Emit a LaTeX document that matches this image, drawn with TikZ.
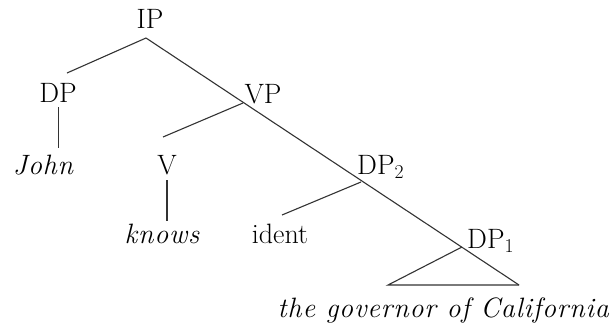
\documentclass[tikz,border=0pt]{standalone}
\usepackage{fontspec}
\setmainfont{Latin Modern Roman}[ItalicFeatures={LetterSpace=3}]
\begin{document}
\begin{tikzpicture}[x=1pt,y=-1pt,
  lbl/.style={inner sep=0pt,font=\fontsize{28}{30}\selectfont},
  edge/.style={line width=1.1pt,black!80}]
\useasboundingbox (0,0) rectangle (613,327);
% labels
\node[lbl,anchor=base] (ip) at (150,28) {IP};
\node[lbl,anchor=base] (dp) at (58,102) {DP};
\node[lbl,anchor=base] (john) at (43,174) {\itshape John};
\node[lbl,anchor=base] (vp) at (263,103) {VP};
\node[lbl,anchor=base] (v) at (167,174) {V};
\node[lbl,anchor=base] (knows) at (162,243) {\itshape knows};
\node[lbl,anchor=base] (ident) at (280,243) {ident};
\node[lbl,anchor=base west] (dptwo) at (357,174) {DP\textsubscript{2}};
\node[lbl,anchor=base west] (dpone) at (467,248) {DP\textsubscript{1}};
\node[lbl,anchor=base east] (gov) at (609,317) {\itshape the governor of California};
% branch points
\coordinate (ipA) at (146,38);
\coordinate (dpT) at (67,73);
\coordinate (dpB1) at (58.5,107);
\coordinate (dpB2) at (58.5,148);
\coordinate (vpA) at (243,103);
\coordinate (vT) at (163,137);
\coordinate (vB1) at (167,180);
\coordinate (vB2) at (167,221);
\coordinate (dptwoA) at (361,182);
\coordinate (idT) at (282,215);
\coordinate (dponeA) at (462,247);
\coordinate (triL) at (388,285);
\coordinate (triR) at (519,285);
% edges
\draw[edge] (ipA) -- (triR);
\draw[edge] (ipA) -- (dpT);
\draw[edge] (dpB1) -- (dpB2);
\draw[edge] (vpA) -- (vT);
\draw[edge] (vB1) -- (vB2);
\draw[edge] (dptwoA) -- (idT);
\draw[edge] (dponeA) -- (triL) -- (triR);
\end{tikzpicture}
\end{document}
